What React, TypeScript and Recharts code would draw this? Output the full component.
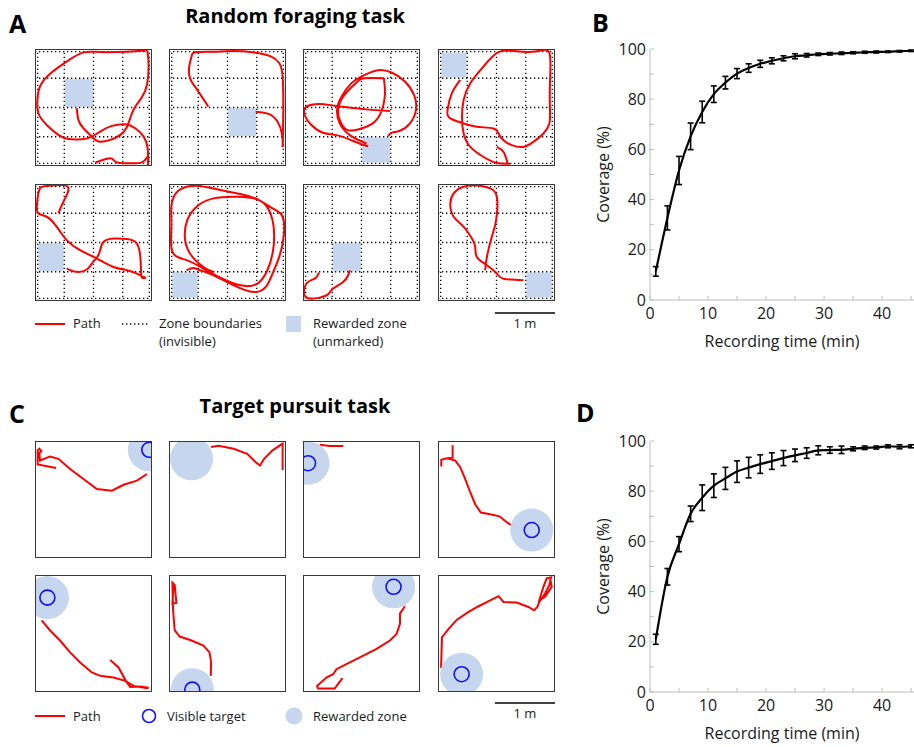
import React from "react";
import { ComposedChart, Line, XAxis, YAxis, ReferenceArea, ReferenceLine, ReferenceDot, ErrorBar } from "recharts";

type Pt = [number, number] | null;

// coverage curves, mean +/- sem every 2 min
const TIME_MIN = [1, 3, 5, 7, 9, 11, 13, 15, 17, 19, 21, 23, 25, 27, 29, 31, 33, 35, 37, 39, 41, 43, 45];
const COVERAGE_B = [11.4, 32.7, 51.6, 65.2, 74.9, 82.0, 86.6, 90.2, 92.4, 94.1, 95.3, 96.3, 97.1, 97.5, 97.9, 98.1, 98.3, 98.5, 98.7, 98.8, 98.9, 99.1, 99.3];
const ERROR_B = [1.9, 4.8, 5.6, 5.3, 4.3, 3.3, 2.5, 2.0, 1.7, 1.4, 1.2, 1.0, 1.0, 0.7, 0.5, 0.5, 0.5, 0.4, 0.4, 0.4, 0.3, 0.3, 0.3];
const COVERAGE_D = [21.0, 45.9, 58.9, 71.0, 77.4, 82.2, 85.1, 87.8, 89.4, 90.8, 92.0, 93.2, 94.3, 95.2, 96.3, 96.4, 96.5, 96.9, 97.3, 97.4, 97.9, 97.7, 97.9];
const ERROR_D = [2.0, 3.3, 3.0, 3.1, 5.1, 4.7, 4.4, 4.3, 4.1, 3.7, 3.3, 3.0, 2.5, 2.1, 1.8, 1.3, 1.5, 0.8, 0.7, 0.6, 0.6, 0.8, 0.6];
const X_TICKS = [0, 5, 10, 15, 20, 25, 30, 35, 40, 45];
const Y_TICKS = [0, 10, 20, 30, 40, 50, 60, 70, 80, 90, 100];

// arena coordinates in % of arena side, y measured from the top
const ZONE_LINES = [2.3, 25, 50, 75, 97.7];

const PATH_A1: Pt[] = [
  [35.7, 50.6], [37.1, 60.6], [41.4, 67.7], [48.6, 74.9], [54.3, 79.1], [64.3, 77.7], [72.9, 73.4], [78, 67.7],
  [81.4, 59.1], [84.9, 50.6], [91.4, 41.1], [95.7, 30.6], [97.1, 14.9], [96.3, 3.4], [93.4, 1.4], [78.6, 2.3],
  [55.7, 2.6], [41.4, 2.9], [28.6, 9.7], [12.9, 21.1], [4.3, 32], [2, 43.4], [2.9, 54.9], [10, 64.9], [20, 73.4],
  [28.6, 76.9], [40, 77.1], [48.6, 74.9], [57.1, 69.7], [65.7, 65.7], [77.1, 64.3], [85.7, 67.7], [92.9, 74.9],
  [96.3, 84.9], [96.6, 99.2], null,
  [51.4, 97.1], [60, 94.3], [65.7, 93.7], [70, 96.9], [81.4, 97.7], [91.4, 96.9], [96.3, 92],
];
const PATH_A2: Pt[] = [
  [33.7, 49.3], [28, 40.7], [22.2, 32.1], [17.9, 24.9], [17.3, 14.9], [19.3, 6.3], [23.6, 2.6], [40.9, 2.3],
  [55.3, 1.7], [72.6, 2.9], [87, 6.3], [94.2, 12], [97.1, 23.5], [97.7, 52.1], [97.1, 83.7], null,
  [74.1, 53.6], [85.6, 55.6], [92.8, 62.2], [96.5, 72.2], [97.4, 83.7],
];
const PATH_A3: Pt[] = [
  [74.3, 53], [54.3, 51.6], [28.6, 48.7], [14.3, 47], [2.9, 49.3], [1.4, 56.4], [7.1, 65], [17.1, 71.6],
  [28.6, 73.6], [40, 77.4], [50, 81.4], [55.7, 83.1], null,
  [54.3, 80.8], [40, 73.6], [31.4, 63.6], [29.1, 52.1], [32.9, 40.7], [41.4, 29.2], [50, 23.5], [62.9, 18.3],
  [75.7, 20.1], [87.1, 27.8], [94.9, 39.3], [96.6, 52.1], [91.4, 63.6], [82.9, 69.9], [75.7, 71.6], [72.9, 74.5], null,
  [69.1, 24.9], [70, 39.3], [66.3, 55], [58.6, 64.2], [47.1, 68.8], [37.1, 68.8], [31.4, 60.7], [30, 52.1],
  [34.3, 40.7], [45.7, 28.7], [52.9, 24.9], [69.1, 24.9],
];
const PATH_A4: Pt[] = [
  [19, 26.4], [11.9, 37.8], [8.2, 52.1], [10.5, 59.3], [21.9, 63.6], [33.2, 66.5], [47.4, 67.9], [51.7, 72.2],
  [56, 77.9], [63.1, 82.2], [73, 83.7], [81.5, 79.4], [90.1, 72.2], [95.2, 63.6], [95.7, 52.1], [95.7, 29.2],
  [95.2, 3.4], [84.4, 2], [67.3, 2], [51.7, 2.6], [38.9, 14.9], [27.6, 29.2], [21.9, 43.6], [20.5, 57.9],
  [21.9, 72.2], [27.6, 83.7], [38.9, 92.3], [50.3, 97.4], [61.6, 98], null,
  [50.3, 83.7], [56, 88], [59.4, 97.4],
];
const PATH_A5: Pt[] = [
  [20, 25.1], [24.3, 15.1], [28, 2.3], [12.9, 1.4], [4.3, 3.7], [2, 13.7], [2.3, 24.6], [10, 28], [18.6, 36.6],
  [27.1, 48], [38.6, 56.6], [52.9, 63.7], [67.1, 70.9], [78.6, 73.7], [87.1, 76.6], [94.3, 80], null,
  [27.1, 72.3], [35.7, 75.1], [44.3, 73.1], [48.6, 68], [52.9, 62.9], [55.7, 56.6], [58.6, 49.4], [67.1, 46.6],
  [78.6, 47.1], [87.1, 50.9], [90, 62.3], [90.6, 73.7], [91.4, 80], [94.9, 80],
];
const PATH_A6: Pt[] = [
  [15, 73.7], [20.7, 71.7], [26.5, 73.7], [38, 78], [55.3, 86.6], [72.6, 92.3], [82.7, 88], [88.5, 76.6],
  [94.2, 62.3], [98, 45.1], [97.1, 28], [88.5, 20.9], [76.9, 13.7], [61.1, 8.6], [43.8, 5.1], [26.5, 1.7],
  [15, 2.3], [6.3, 7.4], [2, 19.4], [2, 36.6], [2.9, 58], [15, 65.1], [29.4, 72.3], [43.8, 80], [61.1, 86.6],
  [75.5, 85.1], [84.1, 73.7], [88.5, 59.4], [89.9, 45.1], [88.5, 30.9], [84.1, 20], [75.5, 13.1], [58.2, 10.9],
  [38, 12.3], [23.6, 19.4], [15.6, 30.9], [13.5, 45.1], [17.9, 59.4], [29.4, 70.9], [38, 75.1],
];
const PATH_A7: Pt[] = [
  [13.7, 75.7], [10, 80.9], [2.9, 85.1], [2.3, 96.6], [14.3, 97.1], [21.4, 94.3], [25.7, 89.4], [34.3, 83.7],
  [38.6, 78], [40, 73.7],
];
const PATH_A8: Pt[] = [
  [40.3, 73.7], [41.8, 62.3], [46, 45.1], [49.7, 30.9], [50.3, 10.9], [44.6, 3.7], [36.1, 1.4], [21.9, 2.3],
  [13.4, 8], [10.5, 16.6], [13.4, 28], [21.9, 36.6], [29, 46.6], [31.8, 53.7], [33.2, 62.3], [41.8, 69.4],
  [50.3, 76.6], [56, 80.9], [73, 82.3],
];

const PATH_C1: Pt[] = [
  [18, 23], [2.3, 20.1], [2.3, 8], [3.7, 6.6], [5.4, 8.6], [3.7, 10.3], [4.3, 16.7], [12.9, 13.2], [20, 15.2],
  [30, 23.9], [41.4, 32.5], [52.9, 41.1], [65.7, 42.5], [75.7, 37.4], [87.1, 33.9], [95.7, 28.2],
];
const PATH_C2: Pt[] = [
  [36, 5.2], [42.4, 4], [55.3, 6.6], [66.9, 10.9], [74.1, 18.1], [77.8, 21], [81.3, 15.2], [88.5, 8], [97.1, 2.3],
  [97.1, 24.7],
];
const PATH_C3: Pt[] = [[14.3, 3.2], [22.9, 4.3], [34.3, 4.3]];
const PATH_C4: Pt[] = [
  [12.5, 3.7], [12.5, 14.4], [7.7, 14.7], [2.8, 16.1], [2.8, 21.8], null,
  [7.7, 14.7], [14.8, 16.7], [19, 22.4], [23.3, 32.5], [27.6, 44], [31.8, 54], [36.6, 61.2], [44.6, 62.6],
  [52.6, 64.4], [57.4, 68.4], [62.2, 71.8],
];
const PATH_C5: Pt[] = [
  [5.7, 38.8], [12.9, 47.4], [21.4, 56], [30, 66.1], [38.6, 74.7], [48.6, 83.3], [55.7, 86.2], [67.1, 87.6],
  [77.1, 90.5], [84.3, 94.8], [95.7, 96.8], [97.1, 96.3], [90, 95.4], [81.4, 95.7], [78, 91.1], [71.4, 79], [64.3, 72.7],
];
const PATH_C6: Pt[] = [
  [4, 7.2], [2.9, 24.4], [6.3, 23.9], [4.9, 8.6], [2.9, 6.6], [3.5, 30.2], [4.9, 47.4], [9.2, 52.6], [19.3, 56],
  [29.4, 60.3], [34.6, 66.1], [36, 74.7], [35.7, 86.2],
];
const PATH_C7: Pt[] = [
  [87.1, 26.7], [82.9, 33], [82.9, 41.7], [80, 50.3], [74.3, 56], [62.9, 63.2], [48.6, 70.4], [37.1, 76.1],
  [28.6, 80.5], [25.7, 84.8], [20, 87.6], [12, 94.8], [12.9, 97.1], [27.1, 97.1], [33.7, 88.2],
];
const PATH_C8: Pt[] = [
  [2.6, 79.6], [3.4, 53.2], [9.1, 46], [16.2, 38.2], [26.1, 31.6], [34.7, 26.7], [44.6, 21.6], [51.7, 18.1],
  [56, 23], [67.3, 23.6], [77.3, 27.3], [82.1, 30.2], [84.9, 27.3], [86.6, 23], [91.5, 15.8], [95.2, 8.6],
  [96.6, 2], [92.9, 2.9], [90.1, 10.1], [86.6, 21.6], [91.5, 18.7], [97.2, 10.1], [95.7, 2],
];

const PATHS_A = [PATH_A1, PATH_A2, PATH_A3, PATH_A4, PATH_A5, PATH_A6, PATH_A7, PATH_A8];
const PATHS_C = [PATH_C1, PATH_C2, PATH_C3, PATH_C4, PATH_C5, PATH_C6, PATH_C7, PATH_C8];
// rewarded zone cell [column, row] for each random foraging session
const REWARD_CELLS_A = [[1, 1], [2, 2], [2, 3], [0, 0], [0, 2], [0, 3], [1, 2], [3, 3]];
// target centre [x, y] and whether the visible target ring is drawn
const TARGETS_C: [number, number, boolean][] = [
  [97.7, 7.5, true], [19.3, 15.2, false], [4.3, 19, true], [80.1, 76.1, true],
  [10.6, 19.3, true], [19.9, 98, true], [77.4, 10.1, true], [20.2, 84.8, true],
];

const BOX = 117;
const COLS = [35, 169, 303, 438];
const ROWS_A = [49, 184];
const ROWS_C = [441, 575];
const ZONE_BLUE = "#c6d6ee";
const RED = "#ff0000";
const TXT = "#1a1a1a";

const toRows = (pts: Pt[]) => {
  let lastX = 0;
  return pts.map((p) => {
    if (!p) return { x: lastX, y: null };
    lastX = p[0];
    return { x: p[0], y: p[1] };
  });
};

interface BoxProps {
  left: number;
  top: number;
  path: Pt[];
  cell?: number[];
  target?: [number, number, boolean];
}

const ArenaBox = ({ left, top, path, cell, target }: BoxProps) => {
  const data = toRows(path);
  return (
    <div style={{ position: "absolute", left, top, width: BOX, height: BOX, overflow: "hidden" }}>
      <ComposedChart width={BOX} height={BOX} data={data} margin={{ top: 0, right: 0, bottom: 0, left: 0 }}>
        <XAxis type="number" dataKey="x" domain={[0, 100]} hide allowDataOverflow />
        <YAxis type="number" domain={[0, 100]} reversed hide allowDataOverflow />
        {cell && (
          <ReferenceArea
            x1={ZONE_LINES[cell[0]] + 0.6}
            x2={ZONE_LINES[cell[0] + 1] - 0.6}
            y1={ZONE_LINES[cell[1]] + 0.6}
            y2={ZONE_LINES[cell[1] + 1] - 0.6}
            fill={ZONE_BLUE}
            fillOpacity={1}
            stroke="none"
          />
        )}
        {cell &&
          ZONE_LINES.map((v) => (
            <ReferenceLine key={"vx" + v} x={v} stroke="#000" strokeWidth={1.3} strokeDasharray="1.3 2.7" />
          ))}
        {cell &&
          ZONE_LINES.map((v) => (
            <ReferenceLine key={"hy" + v} y={v} stroke="#000" strokeWidth={1.3} strokeDasharray="1.3 2.7" />
          ))}
        {target && <ReferenceDot x={target[0]} y={target[1]} r={21.5} fill={ZONE_BLUE} stroke="none" />}
        {target && target[2] && (
          <ReferenceDot x={target[0]} y={target[1]} r={7.5} fill="none" stroke="#1010ff" strokeWidth={1.6} />
        )}
        <Line
          dataKey="y"
          type={cell ? "natural" : "linear"}
          stroke={RED}
          strokeWidth={2}
          dot={false}
          isAnimationActive={false}
        />
      </ComposedChart>
      <div
        style={{
          position: "absolute",
          left: 0,
          top: 0,
          width: BOX,
          height: BOX,
          border: "1.6px solid #383838",
          boxSizing: "border-box",
        }}
      />
    </div>
  );
};

const fmtX = (v: number) => (v % 10 === 0 ? String(v) : "");
const fmtY = (v: number) => (v % 20 === 0 ? String(v) : "");

const CoverageChart = ({ top, cov, err }: { top: number; cov: number[]; err: number[] }) => {
  const data = TIME_MIN.map((t, i) => ({ t, cov: cov[i], err: err[i] }));
  return (
    <div style={{ position: "absolute", left: 560, top, width: 354, height: 360 }}>
      <ComposedChart width={354} height={360} data={data} margin={{ top: 49, right: 0, bottom: 5, left: 40 }}>
        <XAxis
          type="number"
          dataKey="t"
          domain={[0, 45.5]}
          allowDataOverflow
          ticks={X_TICKS}
          interval={0}
          tickFormatter={fmtX}
          height={55}
          tickSize={-4}
          tickMargin={12}
          stroke="#bdbdbd"
          tick={{ fill: TXT, fontSize: 16 }}
          label={{ value: "Recording time (min)", position: "insideBottom", offset: 8, fill: TXT, fontSize: 16 }}
        />
        <YAxis
          type="number"
          domain={[0, 100]}
          ticks={Y_TICKS}
          interval={0}
          tickFormatter={fmtY}
          width={50}
          tickSize={-4}
          tickMargin={8}
          stroke="#bdbdbd"
          tick={{ fill: TXT, fontSize: 16 }}
          label={{
            value: "Coverage (%)",
            angle: -90,
            position: "insideLeft",
            offset: 3,
            fill: TXT,
            fontSize: 16,
            style: { textAnchor: "middle" },
          }}
        />
        <Line dataKey="cov" type="monotone" stroke="#000" strokeWidth={2.2} dot={false} isAnimationActive={false}>
          <ErrorBar dataKey="err" width={3} stroke="#000" strokeWidth={1.6} direction="y" isAnimationActive={false} />
        </Line>
      </ComposedChart>
    </div>
  );
};

export default function App() {
  return (
    <div
      style={{
        position: "absolute",
        left: 0,
        top: 0,
        width: 914,
        height: 747,
        background: "#fff",
        overflow: "hidden",
        fontFamily: "'Open Sans', sans-serif",
      }}
    >
      {PATHS_A.map((p, i) => (
        <ArenaBox key={"a" + i} left={COLS[i % 4]} top={ROWS_A[Math.floor(i / 4)]} path={p} cell={REWARD_CELLS_A[i]} />
      ))}
      {PATHS_C.map((p, i) => (
        <ArenaBox key={"c" + i} left={COLS[i % 4]} top={ROWS_C[Math.floor(i / 4)]} path={p} target={TARGETS_C[i]} />
      ))}
      <CoverageChart top={0} cov={COVERAGE_B} err={ERROR_B} />
      <CoverageChart top={392} cov={COVERAGE_D} err={ERROR_D} />

      <svg
        width={914}
        height={747}
        style={{ position: "absolute", left: 0, top: 0, pointerEvents: "none" }}
        fontFamily="'Open Sans', sans-serif"
      >
        <text x={9} y={33} fontSize={25} fontWeight={700} fill="#000">A</text>
        <text x={592} y={32} fontSize={25} fontWeight={700} fill="#000">B</text>
        <text x={9} y={423} fontSize={25} fontWeight={700} fill="#000">C</text>
        <text x={576} y={422} fontSize={25} fontWeight={700} fill="#000">D</text>
        <text x={295} y={23} fontSize={20} fontWeight={700} textAnchor="middle" fill="#000">Random foraging task</text>
        <text x={295} y={413} fontSize={20} fontWeight={700} textAnchor="middle" fill="#000">Target pursuit task</text>

        {/* legend A */}
        <line x1={35} y1={324} x2={65} y2={324} stroke={RED} strokeWidth={2} />
        <text x={73} y={328} fontSize={13} fill={TXT}>Path</text>
        <line x1={122} y1={324} x2={149} y2={324} stroke="#000" strokeWidth={1.3} strokeDasharray="1.3 2.7" />
        <text x={159} y={328} fontSize={13} fill={TXT}>Zone boundaries</text>
        <text x={159} y={346} fontSize={13} fill={TXT}>(invisible)</text>
        <rect x={286} y={316} width={15} height={16} fill={ZONE_BLUE} />
        <text x={313} y={328} fontSize={13} fill={TXT}>Rewarded zone</text>
        <text x={313} y={346} fontSize={13} fill={TXT}>(unmarked)</text>
        <line x1={495} y1={313} x2={555} y2={313} stroke="#000" strokeWidth={1.5} />
        <text x={525} y={328} fontSize={13} textAnchor="middle" fill={TXT}>1 m</text>

        {/* legend C */}
        <line x1={35} y1={716} x2={65} y2={716} stroke={RED} strokeWidth={2} />
        <text x={73} y={721} fontSize={13} fill={TXT}>Path</text>
        <circle cx={149} cy={716} r={6.5} fill="none" stroke="#1010ff" strokeWidth={1.6} />
        <text x={167} y={721} fontSize={13} fill={TXT}>Visible target</text>
        <circle cx={294} cy={716} r={8.5} fill={ZONE_BLUE} />
        <text x={313} y={721} fontSize={13} fill={TXT}>Rewarded zone</text>
        <line x1={495} y1={703} x2={555} y2={703} stroke="#000" strokeWidth={1.5} />
        <text x={525} y={718} fontSize={13} textAnchor="middle" fill={TXT}>1 m</text>
      </svg>
    </div>
  );
}
